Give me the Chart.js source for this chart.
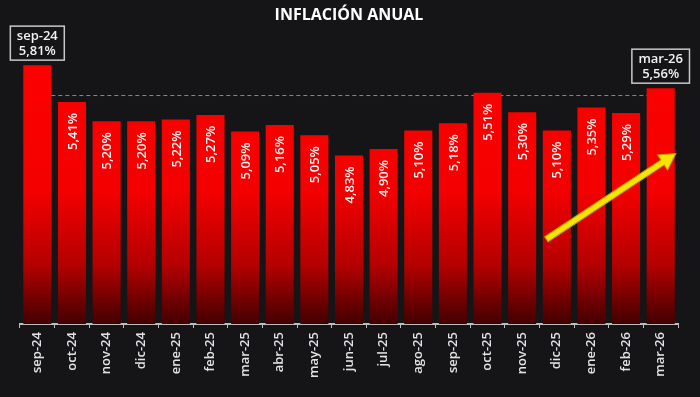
<!DOCTYPE html>
<html>
<head>
<meta charset="utf-8">
<title>Inflación anual</title>
<script src="https://cdn.jsdelivr.net/npm/chart.js@4.4.1/dist/chart.umd.min.js"></script>
<style>
    html, body { margin: 0; padding: 0; background: #151517; }
    #wrap { width: 700px; height: 397px; }
</style>
</head>
<body>
<div id="wrap"><canvas id="inflacionChart" width="700" height="397"></canvas></div>
<script>
// Datos
const months = ['sep-24', 'oct-24', 'nov-24', 'dic-24', 'ene-25', 'feb-25', 'mar-25', 'abr-25', 'may-25', 'jun-25',
    'jul-25', 'ago-25', 'sep-25', 'oct-25', 'nov-25', 'dic-25', 'ene-26', 'feb-26', 'mar-26'];
const inflation = [5.81, 5.41, 5.20, 5.20, 5.22, 5.27, 5.09, 5.16, 5.05, 4.83,
    4.90, 5.10, 5.18, 5.51, 5.30, 5.10, 5.35, 5.29, 5.56];
const referenceLevel = 5.48;          // linea discontinua
const arrowFrom = [14.7, 3.92];       // [indice, valor]
const arrowTo = [18.44, 4.85];

const fmt = v => v.toFixed(2).replace('.', ',') + '%';
const FONT = "'Open Sans', 'DejaVu Sans', sans-serif";

// Linea discontinua de referencia
const refLinePlugin = {
    id: 'refLine',
    beforeDatasetsDraw(chart) {
        const { ctx, scales: { x, y } } = chart;
        const meta = chart.getDatasetMeta(0);
        const first = meta.data[0];
        const last = meta.data[meta.data.length - 1];
        const py = y.getPixelForValue(referenceLevel);
        ctx.save();
        ctx.strokeStyle = '#8a8a8a';
        ctx.lineWidth = 1;
        ctx.setLineDash([4, 3]);
        ctx.beginPath();
        ctx.moveTo(first.x + first.width / 2, py);
        ctx.lineTo(last.x + last.width / 2, py);
        ctx.stroke();
        ctx.restore();
    }
};

// Etiquetas de valor (dentro de las barras y cajas en los extremos)
const valueLabelsPlugin = {
    id: 'valueLabels',
    afterDatasetsDraw(chart) {
        const { ctx } = chart;
        const meta = chart.getDatasetMeta(0);
        const n = meta.data.length;
        ctx.save();
        meta.data.forEach((bar, i) => {
            const v = inflation[i];
            if (i === 0 || i === n - 1) {
                ctx.font = '600 13px ' + FONT;
                const l1 = months[i];
                const l2 = fmt(v);
                const w = Math.max(ctx.measureText(l1).width, ctx.measureText(l2).width) + 13;
                const h = 34;
                const bx = bar.x - w / 2;
                const by = bar.y - 5 - h;
                ctx.fillStyle = '#151517';
                ctx.fillRect(bx, by, w, h);
                ctx.strokeStyle = '#c8c8c8';
                ctx.lineWidth = 1.5;
                ctx.strokeRect(bx, by, w, h);
                ctx.fillStyle = '#f2f2f2';
                ctx.textAlign = 'center';
                ctx.textBaseline = 'middle';
                ctx.fillText(l1, bar.x, by + 10);
                ctx.fillText(l2, bar.x, by + 25);
            } else {
                ctx.save();
                ctx.translate(bar.x, bar.y + 11);
                ctx.rotate(-Math.PI / 2);
                ctx.font = '600 13px ' + FONT;
                ctx.fillStyle = '#f4f4f4';
                ctx.textAlign = 'right';
                ctx.textBaseline = 'middle';
                ctx.fillText(fmt(v), 0, 1);
                ctx.restore();
            }
        });
        ctx.restore();
    }
};

// Flecha amarilla
const arrowPlugin = {
    id: 'arrow',
    afterDatasetsDraw(chart) {
        const { ctx, scales: { x, y } } = chart;
        const x0 = x.getPixelForValue(arrowFrom[0]), y0 = y.getPixelForValue(arrowFrom[1]);
        const x1 = x.getPixelForValue(arrowTo[0]), y1 = y.getPixelForValue(arrowTo[1]);
        const ang = Math.atan2(y1 - y0, x1 - x0);
        const len = Math.hypot(x1 - x0, y1 - y0);
        const shaft = 3, headLen = 16, headHalf = 9;
        ctx.save();
        ctx.translate(x0, y0);
        ctx.rotate(ang);
        ctx.beginPath();
        ctx.moveTo(0, -shaft);
        ctx.lineTo(len - headLen, -shaft);
        ctx.lineTo(len - headLen, -headHalf);
        ctx.lineTo(len, 0);
        ctx.lineTo(len - headLen, headHalf);
        ctx.lineTo(len - headLen, shaft);
        ctx.lineTo(0, shaft);
        ctx.closePath();
        ctx.fillStyle = '#f7e400';
        ctx.fill();
        ctx.strokeStyle = '#b8a000';
        ctx.lineWidth = 1;
        ctx.stroke();
        ctx.restore();
    }
};

function barGradient(context) {
    const { ctx, chartArea } = context.chart;
    if (!chartArea) return '#ff0000';
    const g = ctx.createLinearGradient(0, chartArea.bottom, 0, chartArea.top);
    g.addColorStop(0, '#420000');
    g.addColorStop(0.2, '#b40000');
    g.addColorStop(0.45, '#f40000');
    g.addColorStop(1, '#ff0000');
    return g;
}

const ctx = document.getElementById('inflacionChart').getContext('2d');
new Chart(ctx, {
    type: 'bar',
    data: {
        labels: months,
        datasets: [{
            data: inflation,
            backgroundColor: barGradient,
            borderWidth: 0,
            barPercentage: 0.81,
            categoryPercentage: 1
        }]
    },
    options: {
        responsive: false,
        animation: false,
        layout: {
            padding: { left: 20, right: 22, top: 0, bottom: 15 }
        },
        plugins: {
            legend: { display: false },
            tooltip: { enabled: false },
            title: {
                display: true,
                text: 'INFLACIÓN ANUAL',
                color: '#ffffff',
                font: { family: FONT, size: 16, weight: 'bold', lineHeight: 1.2 },
                padding: { top: 6, bottom: 4 }
            }
        },
        scales: {
            y: {
                display: false,
                min: 3,
                max: 6.2
            },
            x: {
                border: { display: true, color: '#bdbdbd', width: 2 },
                grid: {
                    display: true,
                    drawOnChartArea: false,
                    drawTicks: true,
                    tickLength: 4,
                    color: '#bdbdbd'
                },
                ticks: {
                    color: '#e2e2e2',
                    minRotation: 90,
                    maxRotation: 90,
                    padding: 4,
                    font: { family: FONT, size: 13, weight: '600' }
                }
            }
        }
    },
    plugins: [refLinePlugin, valueLabelsPlugin, arrowPlugin]
});
</script>
</body>
</html>
